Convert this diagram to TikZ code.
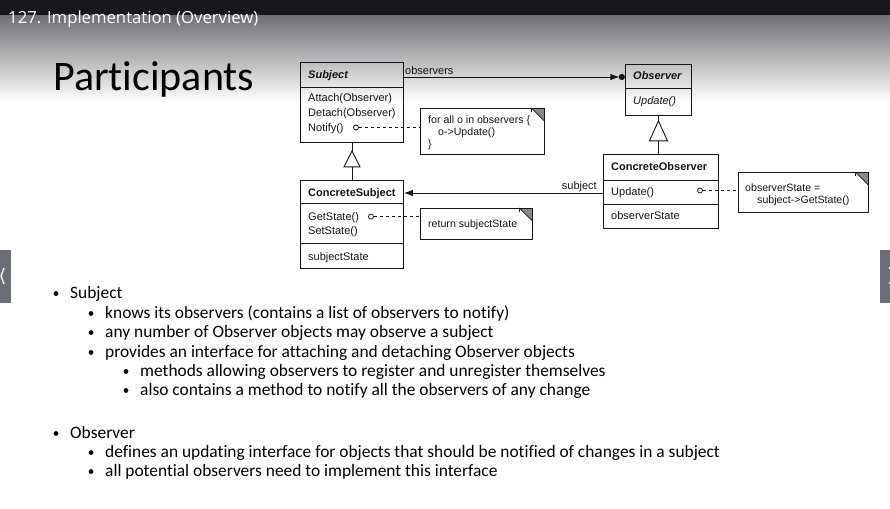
\documentclass[tikz,border=0pt]{standalone}
\usepackage{fontspec}
\setmainfont{Carlito}[Ligatures={TeX,NoCommon}]
\newfontfamily\umlfont{Liberation Sans}
\newfontfamily\barfont{Open Sans}
\usetikzlibrary{arrows.meta,calc}

\definecolor{barbg}{HTML}{16181D}
\definecolor{fadetop}{HTML}{6E6F74}
\definecolor{navgray}{HTML}{6B6E76}
\definecolor{ink}{HTML}{151515}
\definecolor{foldgray}{HTML}{8A8A8A}

\tikzset{
  umlbox/.style={draw=ink, line width=0.9, inner sep=0, anchor=north west},
  umltext/.style={anchor=base west, inner sep=0, text=ink, font=\umlfont\fontsize{11}{13}\selectfont},
  notetext/.style={anchor=base west, inner sep=0, text=ink, font=\umlfont\fontsize{10.6}{12}\selectfont},
  notearea/.style={anchor=north west, inner sep=0},
  link/.style={draw=ink, line width=0.9},
  dotlink/.style={draw=ink, line width=0.8, dash pattern=on 3pt off 3pt},
  hollowdot/.style={circle, draw=ink, line width=0.8, fill=white, inner sep=0, minimum size=5},
  bodytext/.style={anchor=base west, inner sep=0, text=black, font=\fontsize{17.4}{20}\selectfont},
  bulletdot/.style={circle, fill=black, inner sep=0, minimum size=4.8},
}

% note with a folded top-right corner
\newcommand\dogear[1]{%
  \fill[foldgray] ($(#1.north east)+(-13,0)$) -- (#1.north east) -- ($(#1.north east)+(0,13)$) -- cycle;
  \draw[ink, line width=0.9] (#1.north west) rectangle (#1.south east);
  \draw[ink, line width=0.8] ($(#1.north east)+(-13,0)$) -- ($(#1.north east)+(0,13)$);
  \draw[ink, line width=0.8] ($(#1.north east)+(-13,0)$) -- ($(#1.north east)+(-13,4)$);
}

\begin{document}
\begin{tikzpicture}[x=1pt,y=-1pt]
\useasboundingbox (0,0) rectangle (890,508);
\fill[white] (0,0) rectangle (890,508);

% header band and fade
\shade[top color=fadetop, bottom color=white] (0,15) rectangle (890,102);
\fill[barbg] (0,0) rectangle (890,15.5);
\node[anchor=base west, inner sep=0, text=white, font=\barfont\fontsize{16.7}{20}\selectfont] (bartitle) at (8,24) {127. Implementation (Overview)};

% slide title
\node[anchor=base west, inner sep=0, font=\fontsize{42}{48}\selectfont] (slidetitle) at (53,91) {Participants};

% navigation tabs
\fill[navgray] (0,250) rectangle (11,303);
\draw[white, line width=1.4] (4,268) -- (1,276) -- (4,284);
\fill[navgray] (880,250) rectangle (890,303);
\fill[white] (888.5,266.5) rectangle (890,268.5);
\fill[white] (888.5,281.5) rectangle (890,283.5);

% ---------- class Subject ----------
\node[umlbox, minimum width=103, minimum height=80] (subject) at (300,62) {};
\draw[ink, line width=0.9] (subject.west |- 0,87) -- (subject.east |- 0,87);
\node[umltext] (subjname) at (308,79) {\textbf{\textit{Subject}}};
\node[umltext] (attach) at (308,102) {Attach(Observer)};
\node[umltext] (detach) at (308,116) {Detach(Observer)};
\node[umltext] (notify) at (308,131) {Notify()};
\node[hollowdot] (notifydot) at (356,127.5) {};

% ---------- class Observer ----------
\node[umlbox, minimum width=66, minimum height=51] (observer) at (625,64) {};
\draw[ink, line width=0.9] (observer.west |- 0,88) -- (observer.east |- 0,88);
\node[umltext] (obsname) at (633,80) {\textbf{\textit{Observer}}};
\node[umltext] (obsupdate) at (633,105) {\textit{Update()}};

% ---------- class ConcreteObserver ----------
\node[umlbox, minimum width=115, minimum height=74] (cobserver) at (603,154) {};
\draw[ink, line width=0.9] (cobserver.west |- 0,180) -- (cobserver.east |- 0,180);
\draw[ink, line width=0.9] (cobserver.west |- 0,204) -- (cobserver.east |- 0,204);
\node[umltext] (coname) at (611,170) {\textbf{ConcreteObserver}};
\node[umltext] (coupdate) at (611,195) {Update()};
\node[umltext] (costate) at (611,219) {observerState};
\node[hollowdot] (updatedot) at (700,190.5) {};

% ---------- class ConcreteSubject ----------
\node[umlbox, minimum width=103, minimum height=88] (csubject) at (300,180) {};
\draw[ink, line width=0.9] (csubject.west |- 0,203) -- (csubject.east |- 0,203);
\draw[ink, line width=0.9] (csubject.west |- 0,243) -- (csubject.east |- 0,243);
\node[umltext] (csname) at (308,196) {\textbf{ConcreteSubject}};
\node[umltext] (getstate) at (308,220) {GetState()};
\node[umltext] (setstate) at (308,234) {SetState()};
\node[umltext] (csstate) at (308,260) {subjectState};
\node[hollowdot] (getdot) at (371,216.5) {};

% ---------- notes ----------
\node[notearea, minimum width=124, minimum height=46] (notifynote) at (420,108) {};
\dogear{notifynote}
\node[notetext] (nl1) at (428,124) {for all o in observers \{};
\node[notetext] (nl2) at (438,135) {o->Update()};
\node[notetext] (nl3) at (428,147) {\}};

\node[notearea, minimum width=112, minimum height=31] (getnote) at (420,208) {};
\dogear{getnote}
\node[notetext] (gl1) at (428,227.5) {return subjectState};

\node[notearea, minimum width=130, minimum height=40] (updnote) at (738,172) {};
\dogear{updnote}
\node[notetext] (ul1) at (745,191) {observerState =};
\node[notetext] (ul2) at (757,203) {subject->GetState()};

% dashed note links
\draw[dotlink] (notifydot.east) -- (notifynote.west |- notifydot);
\draw[dotlink] (getdot.east) -- (getnote.west |- getdot);
\draw[dotlink] (updatedot.east) -- (updnote.west |- updatedot);

% association: Subject -> Observer (many)
\coordinate (obsdot) at ($(observer.north west)+(-3.2,13)$);
\draw[link, -{Latex[length=9,width=6.5]}] (subject.north east |- obsdot) -- ($(obsdot)+(-2.5,0)$);
\fill[ink] (obsdot) circle (3.1);
\node[umltext, anchor=base west] (obslabel) at (405,74.5) {observers};

% association: ConcreteObserver -> ConcreteSubject
\coordinate (subjy) at (0,193);
\draw[link, -{Latex[length=9,width=6.5]}] (cobserver.west |- subjy) -- (csubject.east |- subjy);
\node[umltext, anchor=base east] (subjlabel) at (597,189) {subject};

% generalisation: Subject <- ConcreteSubject
\draw[link] (subject.south) -- ++(0,8);
\draw[ink, line width=0.9, fill=white] ($(subject.south)+(0,8)$) -- ++(-8,16) -- ++(16,0) -- cycle;
\draw[link] ($(subject.south)+(0,24)$) -- (subject.south |- csubject.north);

% generalisation: Observer <- ConcreteObserver
\draw[link] (observer.south) -- ++(0,5);
\draw[ink, line width=0.9, fill=white] ($(observer.south)+(0,5)$) -- ++(-9,20) -- ++(18,0) -- cycle;
\draw[link] ($(observer.south)+(0,25)$) -- (observer.south |- cobserver.north);

% ---------- bullet list ----------
\node[bulletdot] (d1) at (56,293.5) {};
\node[bodytext] (b1) at (70,298) {Subject};
\node[bulletdot] (d2) at (91,313.5) {};
\node[bodytext] (b2) at (105,318) {knows its observers (contains a list of observers to notify)};
\node[bulletdot] (d3) at (91,332.5) {};
\node[bodytext] (b3) at (105,337) {any number of Observer objects may observe a subject};
\node[bulletdot] (d4) at (91,352.5) {};
\node[bodytext] (b4) at (105,357) {provides an interface for attaching and detaching Observer objects};
\node[bulletdot] (d5) at (126,371.5) {};
\node[bodytext] (b5) at (140,376) {methods allowing observers to register and unregister themselves};
\node[bulletdot] (d6) at (126,390.5) {};
\node[bodytext] (b6) at (140,395) {also contains a method to notify all the observers of any change};

\node[bulletdot] (d7) at (56,433.5) {};
\node[bodytext] (b7) at (70,438) {Observer};
\node[bulletdot] (d8) at (91,452.5) {};
\node[bodytext] (b8) at (105,457) {defines an updating interface for objects that should be notified of changes in a subject};
\node[bulletdot] (d9) at (91,471.5) {};
\node[bodytext] (b9) at (105,476) {all potential observers need to implement this interface};
\end{tikzpicture}
\end{document}
